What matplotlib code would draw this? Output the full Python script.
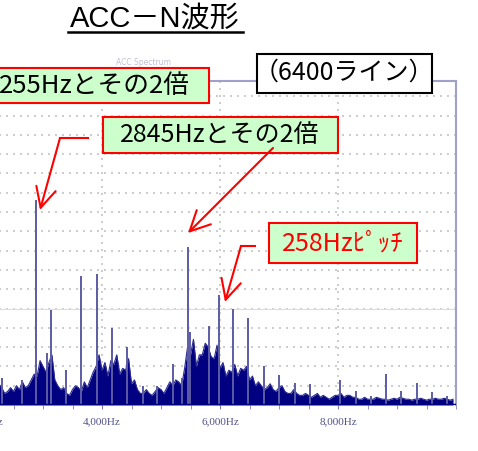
import numpy as np
import matplotlib.pyplot as plt
from matplotlib.ticker import FixedLocator, MultipleLocator, FuncFormatter

plt.rcParams['font.family'] = ['Noto Sans CJK JP', 'DejaVu Sans']

# spectrum data (Hz, amplitude in grid units)
floor_freq = np.arange(2200, 10000, 50)
floor_amp = [0.8, 1.1, 0.9, 0.6, 0.7, 0.9, 0.7, 1.0, 0.8, 1.2,
             0.9, 1.0, 1.3, 1.6, 1.5, 2.3, 2.0, 1.7, 2.2, 2.6,
             1.3, 1.0, 0.8, 0.9, 0.6, 0.5, 0.8, 1.0, 0.9, 0.7,
             1.2, 0.9, 1.3, 1.7, 2.0, 2.6, 1.8, 2.2, 1.5, 2.3,
             2.1, 2.6, 1.6, 1.9, 1.8, 2.4, 1.1, 1.3, 0.8, 0.6,
             0.6, 0.8, 0.6, 0.5, 0.7, 0.9, 0.8, 0.6, 0.9, 1.2,
             1.0, 1.3, 1.2, 1.0, 1.9, 3.0, 2.6, 3.4, 2.0, 2.6,
             2.6, 3.2, 3.0, 2.5, 2.4, 3.1, 1.9, 2.2, 1.5, 1.8,
             1.7, 2.1, 1.5, 1.9, 1.8, 2.0, 1.3, 1.5, 1.0, 1.2,
             1.0, 0.8, 0.9, 1.1, 0.8, 0.7, 0.9, 1.0, 0.7, 0.6,
             0.6, 0.8, 0.6, 0.5, 0.5, 0.6, 0.5, 0.4, 0.5, 0.6,
             0.4, 0.5, 0.4, 0.3, 0.4, 0.5, 0.5, 0.6, 0.4, 0.5,
             0.5, 0.4, 0.4, 0.3, 0.3, 0.4, 0.3, 0.3, 0.3, 0.4,
             0.35, 0.3, 0.3, 0.25, 0.3, 0.35, 0.3, 0.4, 0.35, 0.3,
             0.3, 0.25, 0.3, 0.3, 0.35, 0.3, 0.25, 0.3, 0.3, 0.35,
             0.3, 0.3, 0.35, 0.3, 0.25, 0.3]

peak_freq = [2305, 2644, 2882, 3068, 3136, 3390, 3644, 3915, 4170, 4424,
             4695, 4932, 5204, 5356, 5463, 5492, 5814, 5989, 6226, 6480,
             6746, 7005, 7272, 7526, 8035, 8306, 8555, 8811, 9068, 9335,
             9590, 9855]
peak_amp = [1.4, 1.3, 10.6, 2.7, 4.9, 1.8, 6.7, 6.8, 4.0, 3.0,
            1.0, 1.0, 2.1, 1.4, 8.2, 3.8, 4.1, 5.7, 5.0, 4.5,
            2.0, 1.55, 1.15, 1.1, 1.3, 0.75, 0.45, 1.6, 0.7, 1.15,
            0.65, 0.45]

tick_freq = [2000, 4000, 6000, 8000]

W, H = 478, 451
fig = plt.figure(figsize=(W / 100, H / 100), dpi=100)

# main spectrum axes (left part runs off the picture)
ax = fig.add_axes([-134 / W, (H - 405) / H, 590 / W, 324 / H])
ax.set_xlim(0, 10000)
ax.set_ylim(0, 324 / 19.3)

for y in range(1, 17):
    ax.axhline(y, color='#c4c4c4', lw=1.2, ls=(0, (1.2, 3)), zorder=0)
ax.axhline(5, color='#dddddd', lw=0.8, zorder=0)
for x in tick_freq:
    ax.axvline(x, color='#c4c4c4', lw=1.2, ls=(0, (1.2, 3)), zorder=0)

ax.fill_between(floor_freq, floor_amp, color='#000080', lw=0, zorder=2)
ax.plot(floor_freq, floor_amp, color='#2a2a90', lw=0.8, zorder=2)
ax.vlines(peak_freq, 0, peak_amp, color='#5c5ca4', lw=1.4, zorder=3)
ax.axhline(0, color='#000080', lw=2.5, zorder=4)

for s in ['top', 'right']:
    ax.spines[s].set_color('#a0a0c8')
    ax.spines[s].set_linewidth(1.5)
ax.spines['bottom'].set_visible(False)
ax.spines['left'].set_visible(False)

ax.xaxis.set_major_locator(FixedLocator(tick_freq))
ax.xaxis.set_minor_locator(MultipleLocator(500))
ax.xaxis.set_major_formatter(FuncFormatter(lambda v, p: f'{int(v):,}Hz'))
ax.tick_params(axis='x', which='both', length=3, color='#8080b0', pad=6,
               labelsize=8, labelcolor='#50508a')
for lbl in ax.get_xticklabels():
    lbl.set_family(['Liberation Serif'])
ax.set_yticks([])
ax.text(0.47, 1.05, 'ACC Spectrum', transform=ax.transAxes, ha='center',
        fontsize=5.5, color='#c0c0d0', family='DejaVu Sans')

# overlay in pixel coordinates for the slide annotations
ov = fig.add_axes([0, 0, 1, 1])
ov.set_xlim(0, W)
ov.set_ylim(H, 0)
ov.axis('off')
ov.patch.set_alpha(0)


def box(x0, y0, x1, y1, fc, ec):
    ov.add_patch(plt.Rectangle((x0, y0), x1 - x0, y1 - y0, fc=fc, ec=ec, lw=1.5))


ov.text(155, 19, 'ACC－N波形', ha='center', va='center', fontsize=21,
        color='black', family=['Liberation Sans', 'Noto Sans CJK JP'])
ov.plot([68, 243], [32, 32], color='black', lw=1.8)

box(-5, 68, 209, 103, '#ccffcc', 'red')
ov.text(-1, 86, '255Hzとその2倍', ha='left', va='center', fontsize=18.5)

box(257, 54, 432, 93, 'white', 'black')
ov.text(344, 73, '（6400ライン）', ha='center', va='center', fontsize=18)

box(103, 117, 338, 153, '#ccffcc', 'red')
ov.text(220, 135, '2845Hzとその2倍', ha='center', va='center', fontsize=18)

box(269, 223, 417, 263, '#ccffcc', 'red')
ov.text(343, 243, '258Hzﾋﾟｯﾁ', ha='center', va='center', fontsize=18, color='red')

arrow = dict(arrowstyle='->,head_length=1.2,head_width=0.6', color='red', lw=1.5,
             mutation_scale=12, shrinkA=0, shrinkB=0)
ov.plot([88, 60], [138, 138], color='red', lw=1.5)
ov.annotate('', xy=(40, 210), xytext=(60, 138), arrowprops=arrow)
ov.annotate('', xy=(188, 233), xytext=(273, 148), arrowprops=arrow)
ov.plot([255, 241], [246, 246], color='red', lw=1.5)
ov.annotate('', xy=(225, 302), xytext=(241, 246), arrowprops=arrow)

fig.savefig('out.png', dpi=100)
